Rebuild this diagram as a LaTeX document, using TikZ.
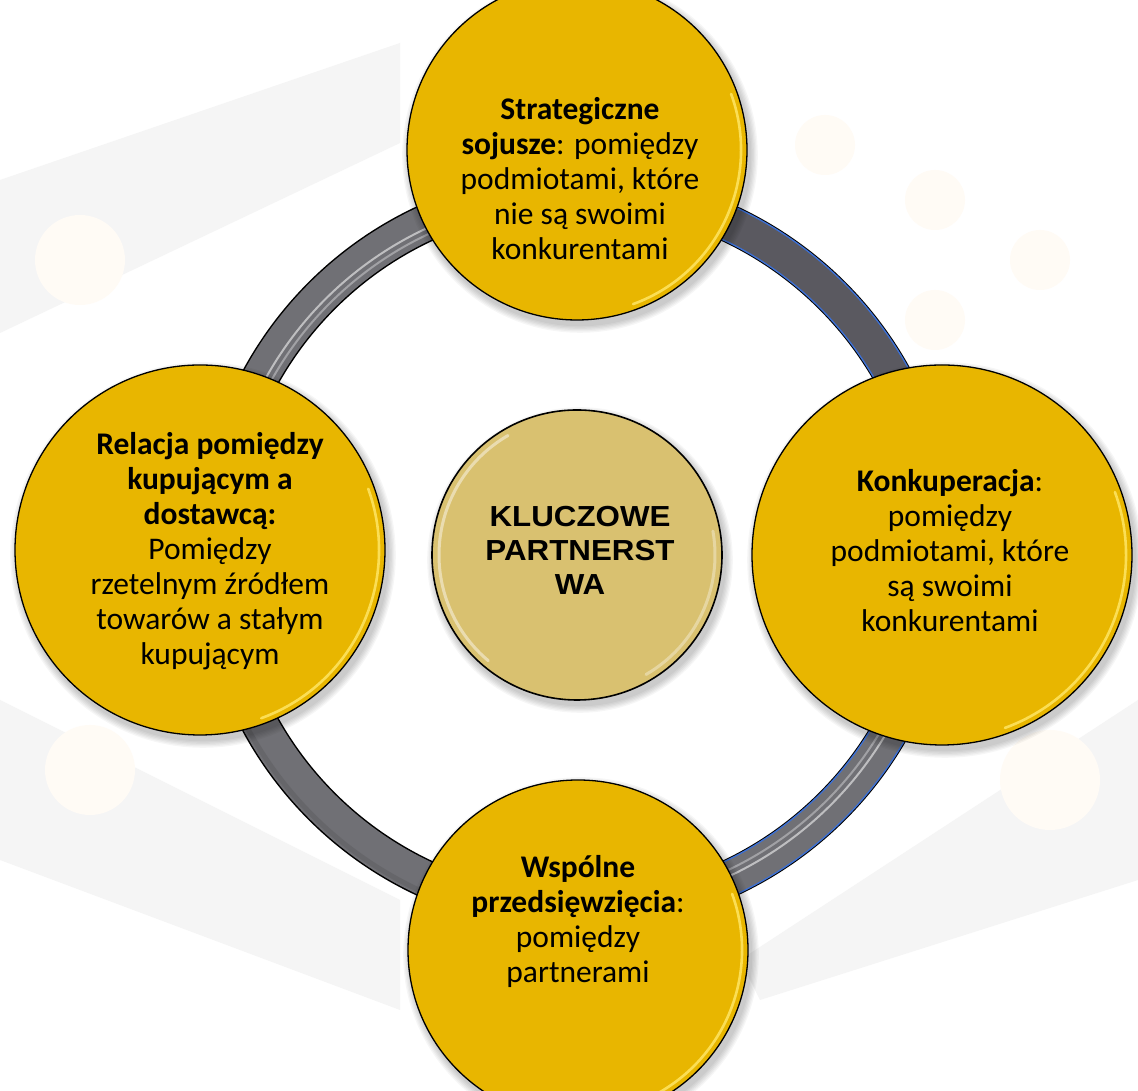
\documentclass[tikz,border=0pt]{standalone}
\usepackage{fontspec}
\setmainfont{Carlito}
\newfontfamily\headfont[FakeStretch=1.08]{Liberation Sans}
\usetikzlibrary{calc}

\definecolor{gold}{RGB}{232,182,0}
\definecolor{goldrim}{RGB}{255,230,100}
\definecolor{khaki}{RGB}{217,193,112}
\definecolor{tubegray}{RGB}{112,112,117}
\definecolor{tubedark}{RGB}{90,89,96}
\definecolor{tubeblue}{RGB}{60,112,214}
\definecolor{bandgray}{RGB}{245,245,245}
\definecolor{cream}{RGB}{255,251,245}

\begin{document}
\begin{tikzpicture}[x=1pt,y=1pt,
  bubble/.style={circle, draw=black, line width=1.3pt, fill=gold, inner sep=0pt},
  hub/.style={circle, draw=black, line width=1.6pt, fill=khaki, inner sep=0pt},
  bubbletext/.style={align=center, inner sep=0pt, font=\fontsize{31.5}{35}\selectfont},
  hubtext/.style={align=center, inner sep=0pt, font=\headfont\bfseries\fontsize{29}{34}\selectfont},
  rim/.style={goldrim, line width=2.6pt, opacity=.85, line cap=round},
  stripe/.style={white, line width=2pt, opacity=.55},
]
\useasboundingbox (0,0) rectangle (1138,1091);
\clip (0,0) rectangle (1138,1091);
\fill[white] (0,0) rectangle (1138,1091);

% faint network pattern in the background
\fill[bandgray] (0,911) -- (400,1048) -- (400,948) -- (0,758) -- cycle;
\fill[bandgray] (0,391) -- (0,231) -- (400,81) -- (400,191) -- cycle;
\fill[bandgray] (740,131) -- (760,91) -- (1138,211) -- (1138,391) -- cycle;
\foreach \px/\py/\pr in {80/831/45, 90/321/45, 1050/311/50, 825/946/30, 935/891/30, 1040/831/30, 935/771/30, 1040/591/30}
  \fill[cream] (\px,\py) circle (\pr);

% the ring joining the circles
\coordinate (ringc) at (577,540);
\draw[black, line width=38pt] (ringc) circle (361);
\draw[tubegray, line width=35pt] (ringc) circle (361);
\draw[tubeblue, line width=36pt] ($(ringc)+(-90:361)$) arc[start angle=-90, end angle=90, radius=361];
\draw[tubedark, line width=33pt] ($(ringc)+(0:361)$) arc[start angle=0, end angle=90, radius=361];
\draw[tubegray, line width=33pt] ($(ringc)+(-90:361)$) arc[start angle=-90, end angle=0, radius=361];
\draw[black!70, line width=5pt, opacity=.25] ($(ringc)+(180:374)$) arc[start angle=180, end angle=270, radius=374];
\draw[stripe] ($(ringc)+(100:356)$) arc[start angle=100, end angle=172, radius=356];
\draw[stripe, opacity=.35] ($(ringc)+(100:350)$) arc[start angle=100, end angle=172, radius=350];
\draw[stripe] ($(ringc)+(-82:359)$) arc[start angle=-82, end angle=-10, radius=359];
\draw[stripe, opacity=.35] ($(ringc)+(-82:353)$) arc[start angle=-82, end angle=-10, radius=353];

% soft drop shadows under the circles
\foreach \cx/\cy/\cr in {577/941/170, 200/541/185, 942/536/190, 578/141/170, 577/536/145}
  \foreach \k in {1,...,6}
    \fill[black, opacity=.035] (\cx+3,\cy-5) circle (\cr+\k*1.3);

% circles
\node[bubble, minimum size=340pt] (strat) at (577,941) {};
\node[bubble, minimum size=370pt] (relac) at (200,541) {};
\node[bubble, minimum size=380pt] (konk) at (942,536) {};
\node[bubble, minimum size=340pt] (wsp) at (578,141) {};
\node[hub, minimum size=290pt] (hubc) at (577,536) {};

% bright inner rims
\draw[rim] ($(strat.center)+(-70:164)$) arc[start angle=-70, end angle=20, radius=164];
\draw[rim] ($(relac.center)+(-70:179)$) arc[start angle=-70, end angle=20, radius=179];
\draw[rim] ($(konk.center)+(-70:184)$) arc[start angle=-70, end angle=20, radius=184];
\draw[rim] ($(wsp.center)+(-70:164)$) arc[start angle=-70, end angle=20, radius=164];
\draw[white, line width=3pt, opacity=.45, line cap=round] ($(hubc.center)+(120:138)$) arc[start angle=120, end angle=230, radius=138];
\draw[white, line width=3pt, opacity=.35, line cap=round] ($(hubc.center)+(-60:138)$) arc[start angle=-60, end angle=10, radius=138];

% texts
\node[bubbletext] (stratt) at (580,912) {\textbf{Strategiczne}\\\textbf{sojusze}: pomiędzy\\podmiotami, które\\nie są swoimi\\konkurentami};
\node[bubbletext] (relact) at (210,540) {\textbf{Relacja pomiędzy}\\\textbf{kupującym a}\\\textbf{dostawcą:}\\Pomiędzy\\rzetelnym źródłem\\towarów a stałym\\kupującym};
\node[bubbletext] (konkt) at (950,540) {\textbf{Konkuperacja}:\\pomiędzy\\podmiotami, które\\są swoimi\\konkurentami};
\node[bubbletext] (wspt) at (578,170) {\textbf{Wspólne}\\\textbf{przedsięwzięcia}:\\pomiędzy\\partnerami};
\node[hubtext] (hubt) at (580,541) {KLUCZOWE\\PARTNERST\\WA};
\end{tikzpicture}
\end{document}
